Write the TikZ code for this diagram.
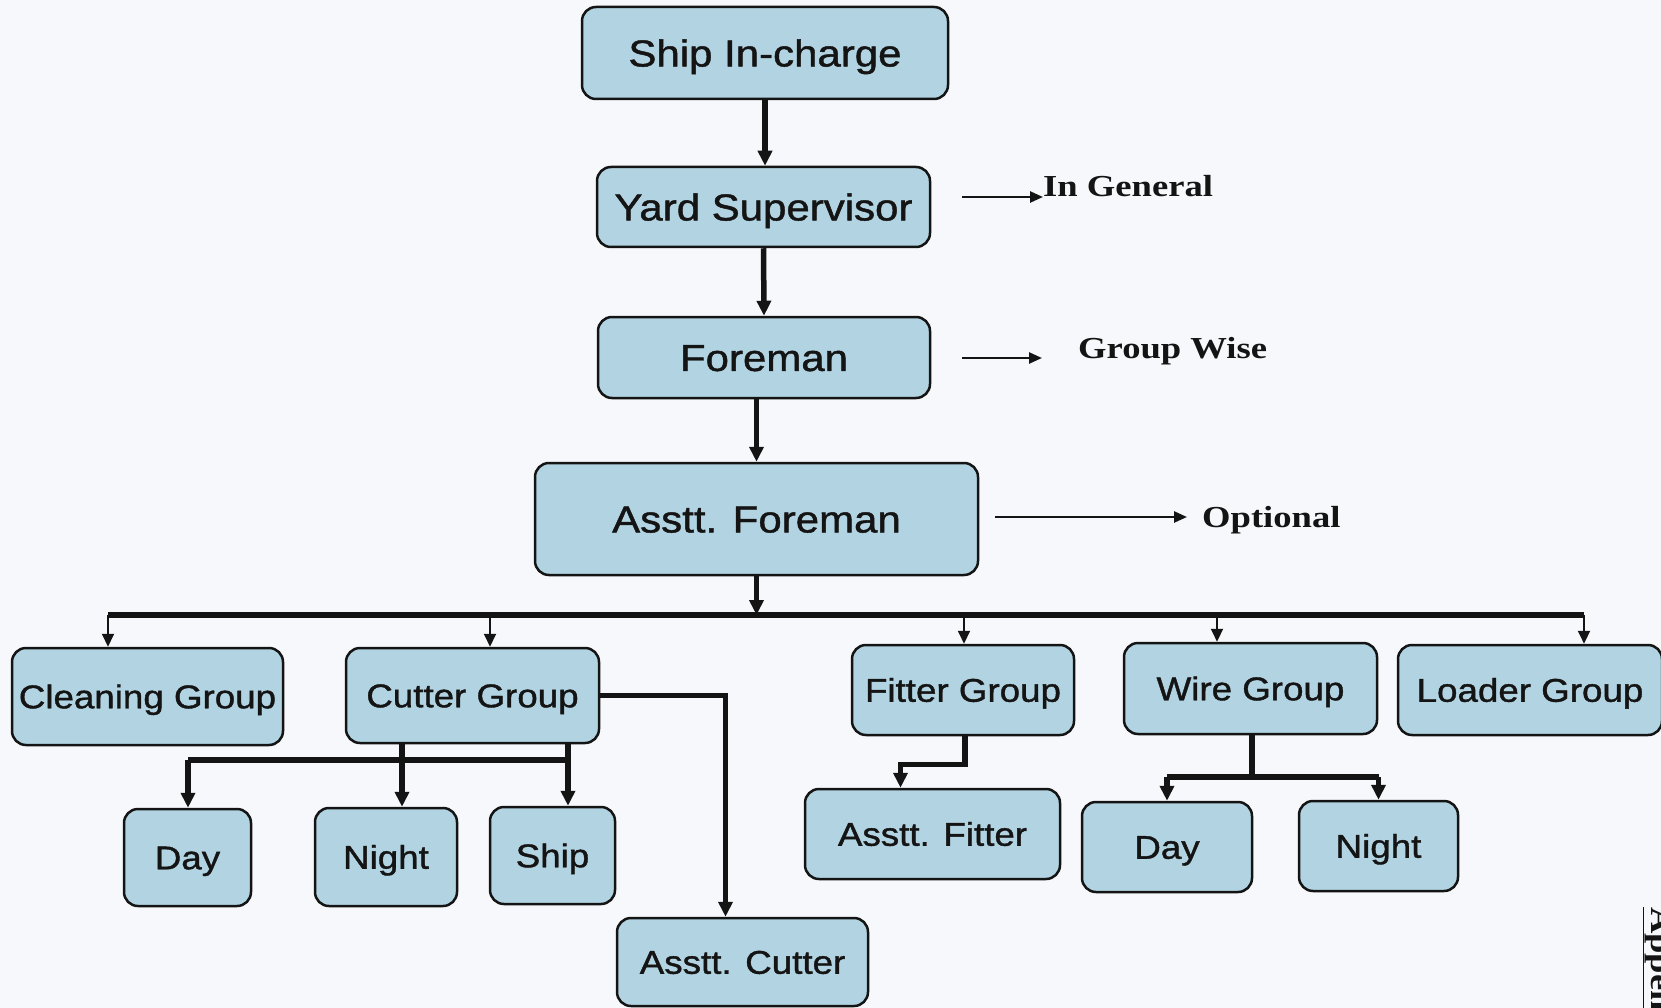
\documentclass[tikz,border=0pt]{standalone}
\usepackage{fontspec}
\usetikzlibrary{arrows.meta}
\newfontfamily\boxfont{Liberation Sans}[FakeStretch=1.12,FakeBold=1.2]
\newfontfamily\notefont{Liberation Serif}[FakeStretch=1.2]
\definecolor{boxblue}{RGB}{178,212,226}
\definecolor{paper}{RGB}{247,248,251}
\definecolor{ink}{RGB}{20,20,20}
\tikzset{
  post/.style={draw=ink,line width=2.5pt,fill=boxblue,rounded corners=14pt,inner sep=0pt,text=ink,align=center,text depth=0pt},
  bigpost/.style={post,text height=26.9pt,font=\boxfont\fontsize{37.5}{44}\selectfont},
  smallpost/.style={post,text height=23.5pt,font=\boxfont\fontsize{32.8}{39}\selectfont},
  note/.style={inner sep=0pt,text=ink,font=\notefont\bfseries\fontsize{30.5}{36}\selectfont},
  link/.style={draw=ink,line width=5.5pt},
  linkarr/.style={link,-{Triangle[width=14pt,length=15pt]}},
  droparr/.style={draw=ink,line width=2pt,-{Triangle[width=12pt,length=13pt]}},
  sidearr/.style={draw=ink,line width=2.5pt,-{Triangle[width=11pt,length=13pt]}}
}
\begin{document}
\begin{tikzpicture}[x=1pt,y=-1pt]
\fill[paper] (0,0) rectangle (1661,1008);
\useasboundingbox (0,0) rectangle (1661,1008);

\node[bigpost,minimum width=366pt,minimum height=92pt] (ship) at (765,53) {Ship In-charge};
\node[bigpost,minimum width=333pt,minimum height=80pt] (yard) at (763.5,207) {Yard Supervisor};
\node[bigpost,minimum width=332pt,minimum height=81pt] (fore) at (764,357.5) {Foreman};
\node[bigpost,minimum width=443pt,minimum height=112pt] (asst) at (756.5,519) {Asstt. Foreman};

\node[smallpost,minimum width=271pt,minimum height=97pt] (clean) at (147.5,696.5) {Cleaning Group};
\node[smallpost,minimum width=253pt,minimum height=95pt] (cutter) at (472.5,695.5) {Cutter Group};
\node[smallpost,minimum width=222pt,minimum height=90pt] (fitter) at (963,690) {Fitter Group};
\node[smallpost,minimum width=253pt,minimum height=91pt] (wire) at (1250.5,688.5) {Wire Group};
\node[smallpost,minimum width=264pt,minimum height=90pt] (loader) at (1530,690) {Loader Group};

\node[smallpost,minimum width=127pt,minimum height=97pt] (cday) at (187.5,857.5) {Day};
\node[smallpost,minimum width=142pt,minimum height=98pt] (cnight) at (386,857) {Night};
\node[smallpost,minimum width=125pt,minimum height=97pt] (cship) at (552.5,855.5) {Ship};
\node[smallpost,minimum width=251pt,minimum height=88pt] (acut) at (742.5,962) {Asstt. Cutter};
\node[smallpost,minimum width=255pt,minimum height=90pt] (afit) at (932.5,834) {Asstt. Fitter};
\node[smallpost,minimum width=170pt,minimum height=90pt] (wday) at (1167,847) {Day};
\node[smallpost,minimum width=159pt,minimum height=90pt] (wnight) at (1378.5,846) {Night};

\node[note,anchor=base west] (gen) at (1043,197) {In General};
\node[note,anchor=base west] (grp) at (1078,358) {Group Wise};
\node[note,anchor=base west] (opt) at (1202,527) {Optional};
\node[note,rotate=-90,anchor=base west] (app) at (1651,907) {\underline{Appendix}};

\coordinate (genst) at (962,197);
\coordinate (grpst) at (962,358);
\coordinate (grpen) at (1042,358);
\coordinate (optst) at (995,517);
\coordinate (opten) at (1187,517);
\draw[sidearr] (genst) -- (gen.base west);
\draw[sidearr] (grpst) -- (grpen);
\draw[sidearr] (optst) -- (opten);

\draw[linkarr] (ship.south) -- (ship.south |- yard.north);
\draw[linkarr] (yard.south) -- (fore.north);
\draw[linkarr] (asst.north |- fore.south) -- (asst.north);

\coordinate (b1) at (108,615);
\coordinate (b2) at (490,615);
\coordinate (b3) at (964,615);
\coordinate (b4) at (1217,615);
\coordinate (b5) at (1584,615);
\draw[linkarr] (asst.south) -- (asst.south |- b1);
\draw[link] (b1) -- (b5);
\draw[droparr] (b1) -- (b1 |- clean.north);
\draw[droparr] (b2) -- (b2 |- cutter.north);
\draw[droparr] (b3) -- (b3 |- fitter.north);
\draw[droparr] (b4) -- (b4 |- wire.north);
\draw[droparr] (b5) -- (b5 |- loader.north);

\coordinate (cl) at (188,760);
\coordinate (cn) at (402,760);
\coordinate (cs) at (568,760);
\draw[link] (cl) -- (cs);
\draw[linkarr] (cl) -- (cl |- cday.north);
\draw[linkarr] (cn |- cutter.south) -- (cn |- cnight.north);
\draw[linkarr] (cs |- cutter.south) -- (cs |- cship.north);
\draw[linkarr] (cutter.east) -| ([xshift=-17pt]acut.north);

\draw[linkarr] ([xshift=2pt]fitter.south) -- ++(0,28) -| ([xshift=-32pt]afit.north);

\coordinate (wbar) at (1252,777);
\draw[link] (wire.south -| wbar) -- (wbar);
\draw[link] (wday.north |- wbar) -- (wnight.north |- wbar);
\draw[linkarr] (wday.north |- wbar) -- (wday.north);
\draw[linkarr] (wnight.north |- wbar) -- (wnight.north);
\end{tikzpicture}
\end{document}
